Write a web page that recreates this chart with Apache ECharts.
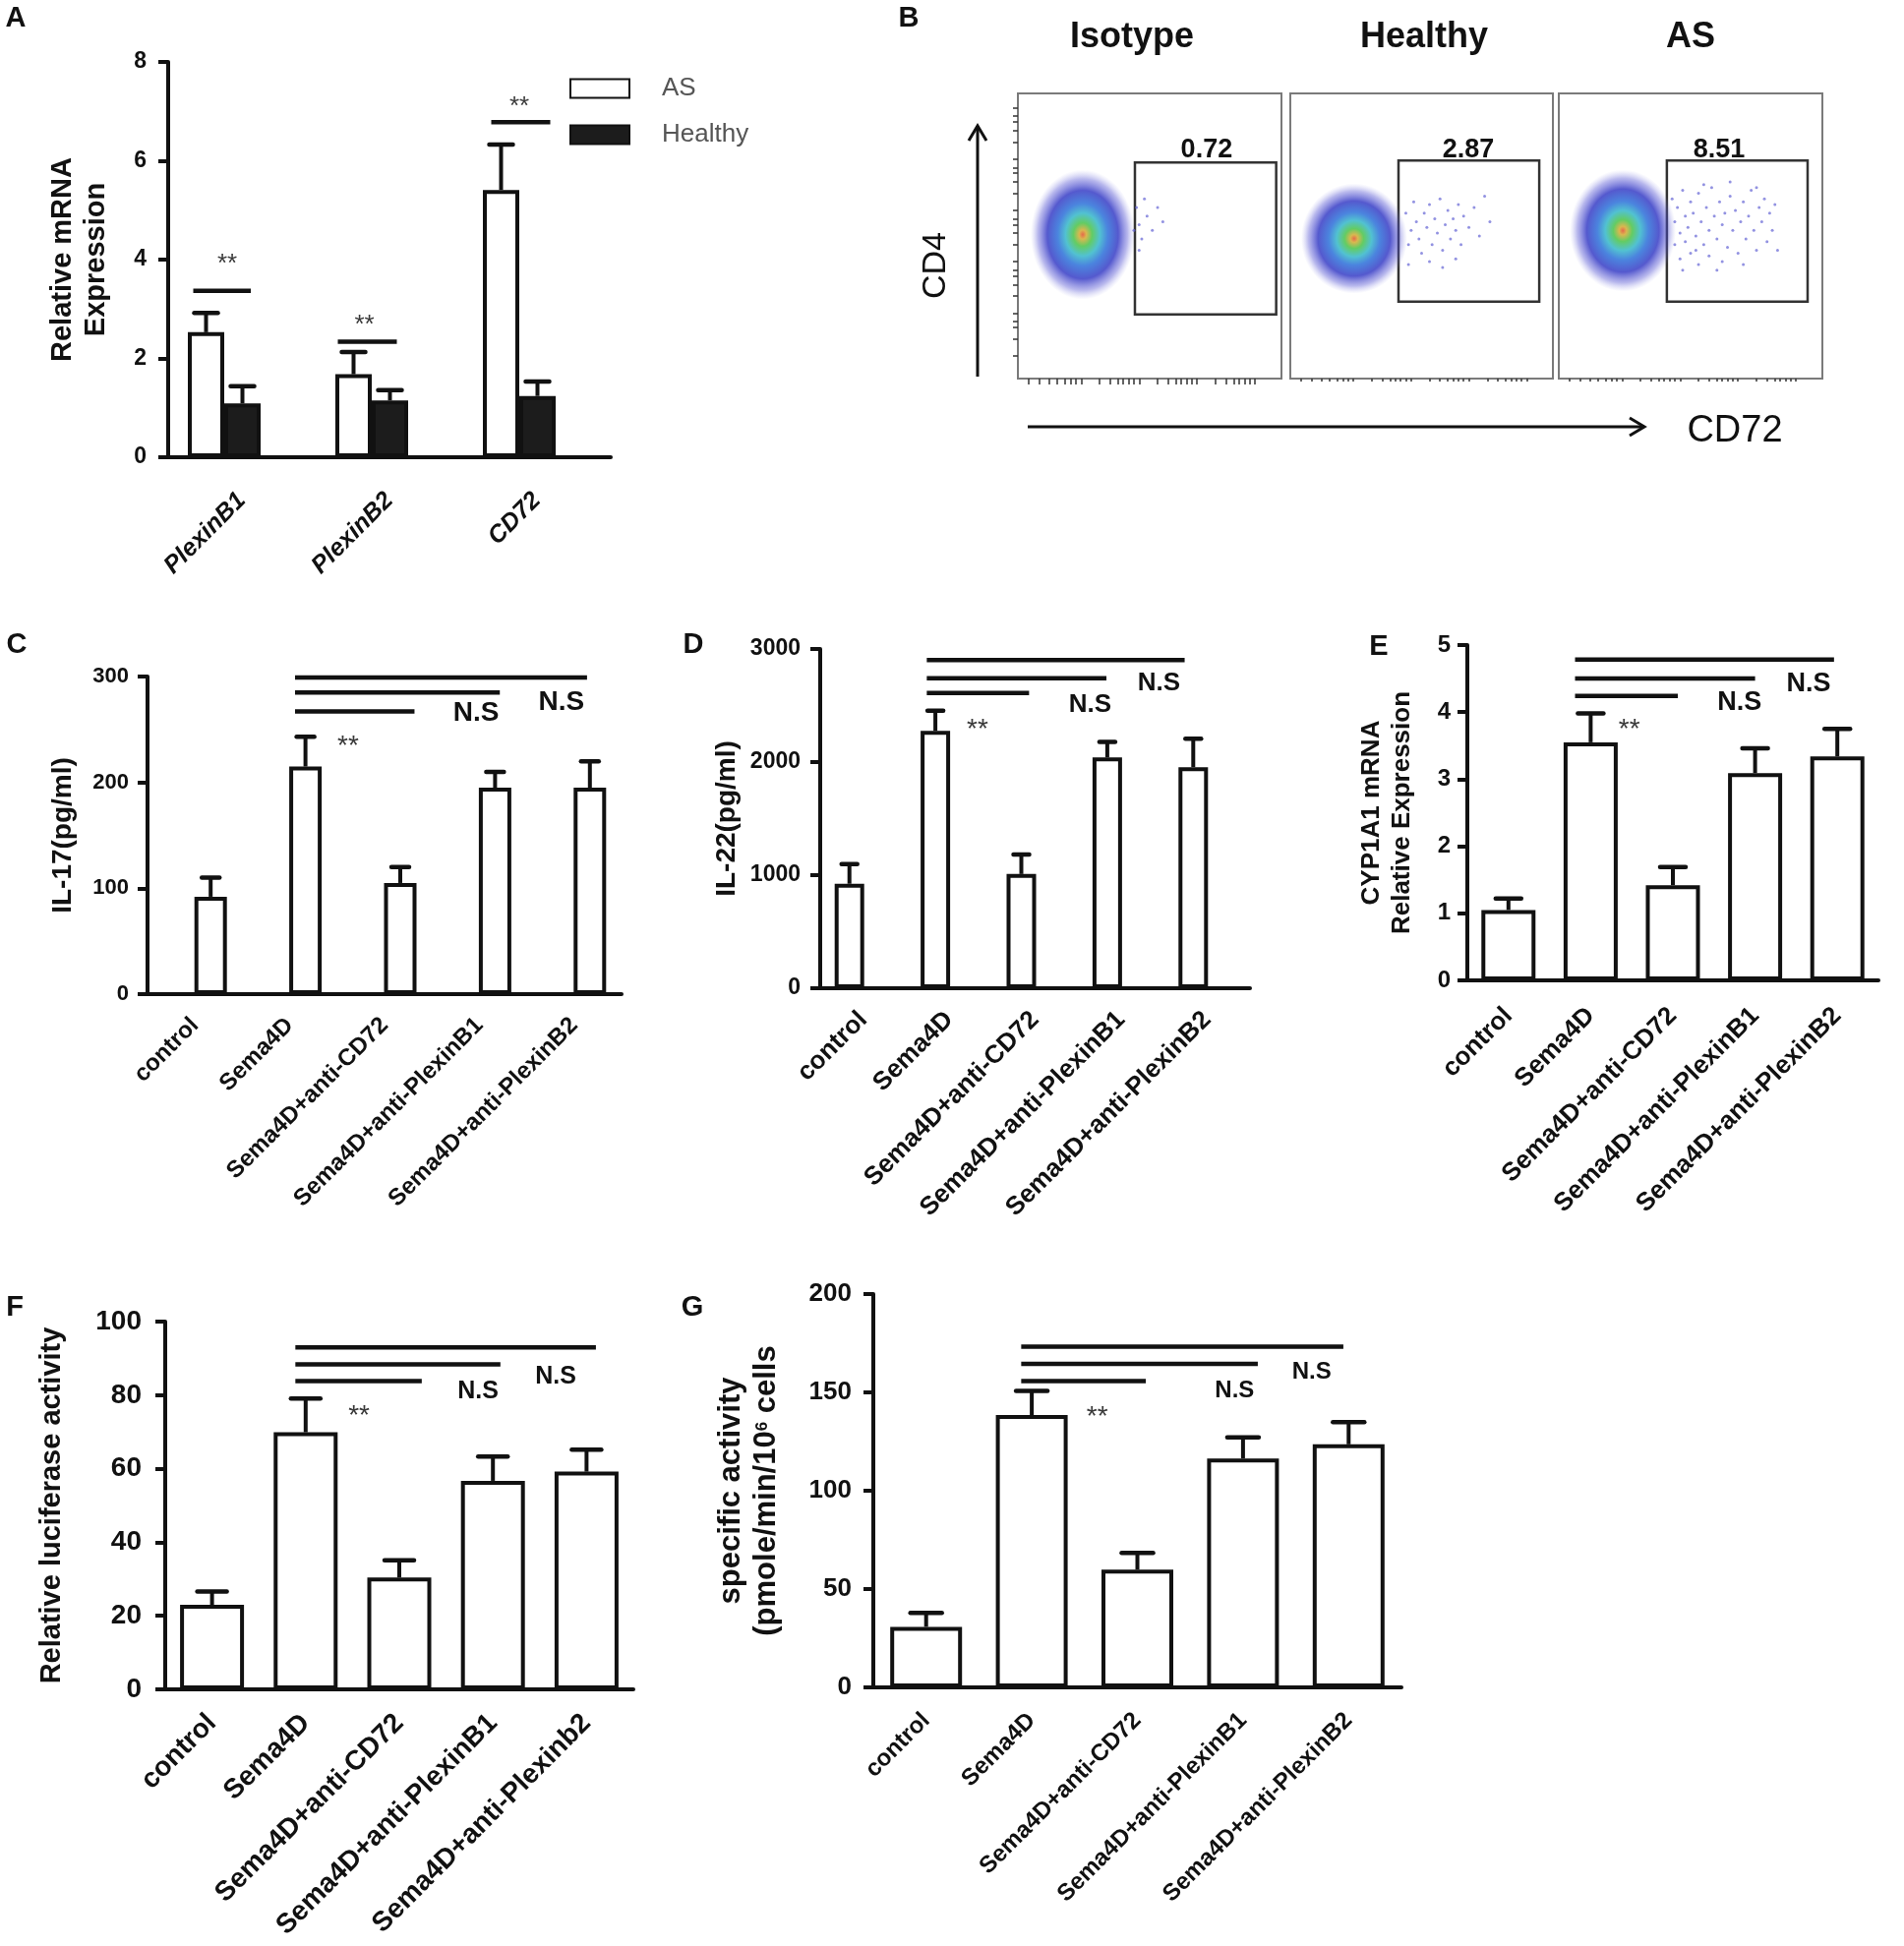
<!DOCTYPE html>
<html>
<head>
<meta charset="utf-8">
<script src="https://cdn.jsdelivr.net/npm/echarts@6/dist/echarts.min.js"></script>
<style>
html, body { margin: 0; padding: 0; background: #fff; }
#chart { width: 1936px; height: 1979px; }
</style>
</head>
<body>
<div id="chart"></div>
<script>
var FONT = "'Liberation Sans', Arial, sans-serif";
var INK = '#111';

// A - relative mRNA expression, AS vs healthy
var geneNames = ['PlexinB1', 'PlexinB2', 'CD72'];
var asMean = [2.53, 1.68, 5.41];
var asUpper = [2.92, 2.13, 6.33];
var healthyMean = [1.09, 1.15, 1.24];
var healthyUpper = [1.44, 1.36, 1.53];
var geneLines = [[-0.21, 0.18, 3.37], [0.77, 1.17, 2.34], [1.81, 2.21, 6.78]];
var geneNoteAt = [[0.02, 4.04], [0.95, 2.79], [2.0, 7.22]];
var geneNotes = ['**', '**', '**'];

// B - flow cytometry, CD4 vs CD72
var flowTitles = ['Isotype', 'Healthy', 'AS'];
var flowPercent = ['0.72', '2.87', '8.51'];
var flowPercentAt = [[71.6, 80], [67.8, 80], [60.8, 80]];
var flowCore = [[24.6, 50.5], [24.3, 49.1], [24.3, 51.9]];
var flowGates = [[44.4, 22.5, 98, 75.8], [41.2, 27, 94.8, 76.5], [41, 27, 94.4, 76.5]];
var flowTickX = [4, 8, 12, 15, 18, 20, 22, 24, 31, 35, 38, 40, 42, 44, 46, 53, 57, 60, 62, 64, 66, 68, 75, 79, 82, 84, 86, 88, 90];
var flowTickY = [8, 14, 18, 20, 23, 29, 33, 36, 38, 41, 47, 51, 54, 56, 59, 65, 69, 72, 74, 77, 83, 87, 90, 92, 95];
var isotypeEvents = [[45, 60], [46, 54], [47, 49], [48, 63], [49, 57], [51, 52], [53, 60], [55, 55], [46, 45], [44, 52]];
var healthyEvents = [[44, 58], [46, 52], [45, 47], [47, 62], [48, 55], [49, 49], [50, 44], [51, 58], [52, 53], [53, 61],
  [54, 47], [55, 56], [56, 51], [57, 63], [58, 45], [59, 54], [60, 59], [61, 49], [62, 56], [63, 52], [64, 61], [65, 47],
  [66, 57], [68, 53], [70, 60], [72, 50], [74, 64], [76, 55], [53, 41], [58, 39], [63, 42], [45, 40]];
var asEvents = [[43, 63], [44, 55], [44, 47], [45, 60], [46, 51], [46, 42], [47, 66], [48, 57], [48, 48], [49, 53],
  [50, 62], [50, 44], [51, 58], [52, 50], [53, 65], [53, 40], [54, 55], [55, 47], [56, 60], [57, 52], [57, 43], [58, 67],
  [59, 57], [60, 49], [61, 62], [62, 54], [62, 41], [63, 58], [64, 46], [65, 64], [66, 52], [67, 59], [68, 44], [69, 55],
  [70, 62], [71, 49], [72, 57], [73, 66], [74, 52], [75, 45], [76, 60], [77, 55], [78, 63], [79, 48], [80, 58], [81, 52],
  [82, 61], [83, 45], [60, 38], [70, 40], [55, 68], [65, 69], [75, 67], [47, 38], [52, 45]];

// C-G - treatment groups
var groups = ['control', 'Sema4D', 'Sema4D+anti-CD72', 'Sema4D+anti-PlexinB1', 'Sema4D+anti-PlexinB2'];
var groupsF = ['control', 'Sema4D', 'Sema4D+anti-CD72', 'Sema4D+anti-PlexinB1', 'Sema4D+anti-Plexinb2'];

var il17Mean = [92, 215, 105, 195, 195];
var il17Upper = [110, 243, 120, 210, 220];
var il17Lines = [[0.89, 2.15, 267], [0.89, 3.05, 285], [0.89, 3.97, 299]];
var il17NoteAt = [[1.45, 240], [2.8, 265], [3.7, 275.5]];

var il22Mean = [924, 2276, 1010, 2041, 1955];
var il22Upper = [1097, 2455, 1183, 2179, 2207];
var il22Lines = [[0.9, 2.09, 2610], [0.9, 2.99, 2741], [0.9, 3.9, 2903]];
var il22NoteAt = [[1.49, 2345], [2.8, 2502], [3.6, 2698]];

var cypMean = [1.05, 3.55, 1.42, 3.09, 3.34];
var cypUpper = [1.22, 3.98, 1.69, 3.46, 3.75];
var cypLines = [[0.81, 2.06, 4.24], [0.81, 3.0, 4.5], [0.81, 3.96, 4.785]];
var cypNoteAt = [[1.47, 3.84], [2.81, 4.14], [3.65, 4.42]];

var lucMean = [23, 69.9, 30.4, 56.7, 59.2];
var lucUpper = [26.6, 79.1, 35.1, 63.3, 65.2];
var lucLines = [[0.89, 2.24, 83.8], [0.89, 3.08, 88.4], [0.89, 4.1, 93]];
var lucNoteAt = [[1.57, 76], [2.84, 81], [3.67, 85]];

var actMean = [30.8, 138.5, 59.9, 116.4, 123.6];
var actUpper = [37.9, 150.8, 68.4, 127.1, 134.9];
var actLines = [[0.9, 2.08, 155.7], [0.9, 3.14, 164.5], [0.9, 3.95, 173.3]];
var actNoteAt = [[1.62, 141], [2.92, 151], [3.65, 160.5]];

var groupNotes = ['**', 'N.S', 'N.S'];

var chart = echarts.init(document.getElementById('chart'));
var opt = {
	backgroundColor: '#fff',
	animation: false,
	grid: [],
	xAxis: [],
	yAxis: [],
	series: [],
	graphic: [],
	legend: {
		data: ['AS', 'Healthy'],
		orient: 'vertical',
		left: 579,
		top: 77,
		padding: 0,
		icon: 'rect',
		itemWidth: 60,
		itemHeight: 19,
		itemGap: 21,
		textStyle: { fontFamily: FONT, fontSize: 26, color: '#555', padding: [0, 0, 0, 28] }
	}
};

function errorBar(offset, cap) {
	return function (params, api) {
		var base = api.coord([api.value(0), api.value(1)]);
		var top = api.coord([api.value(0), api.value(2)]);
		var x = base[0] + offset;
		return {
			type: 'group',
			children: [
				{ type: 'line', shape: { x1: x, y1: base[1], x2: x, y2: top[1] }, style: { stroke: INK, lineWidth: 4 } },
				{ type: 'line', shape: { x1: x - cap, y1: top[1], x2: x + cap, y2: top[1] }, style: { stroke: INK, lineWidth: 4.5, lineCap: 'round' } }
			]
		};
	};
}

function bracket(params, api) {
	var a = api.coord([api.value(0), api.value(2)]);
	var b = api.coord([api.value(1), api.value(2)]);
	return { type: 'line', shape: { x1: a[0], y1: a[1], x2: b[0], y2: b[1] }, style: { stroke: INK, lineWidth: 4.5 } };
}

function noteText(texts, starSize, nsSize) {
	return function (params, api) {
		var p = api.coord([api.value(0), api.value(1)]);
		var t = texts[params.dataIndex];
		var star = t === '**';
		return {
			type: 'text',
			style: {
				text: t, x: p[0], y: p[1] + (star ? starSize * 0.25 : 0),
				align: 'center', verticalAlign: 'middle',
				fontFamily: FONT, fontSize: star ? starSize : nsSize,
				fontWeight: star ? 'normal' : 'bold', fill: star ? '#3a3a3a' : INK
			}
		};
	};
}

function addBarPanel(p) {
	var g = opt.grid.length;
	var xa = opt.xAxis.length;
	var ya = opt.yAxis.length;
	var line = { color: INK, width: 4 };
	opt.grid.push({ left: p.left, top: p.top, width: p.width, height: p.height });
	opt.grid.push({ left: p.left + p.shift, top: p.top, width: p.width, height: p.height });
	opt.xAxis.push({
		gridIndex: g, type: 'category', data: p.cats,
		axisLine: { lineStyle: line },
		axisTick: { alignWithLabel: true, length: 13, lineStyle: line },
		axisLabel: {
			interval: 0, rotate: 45, margin: p.catMargin, color: INK, fontFamily: FONT,
			fontWeight: 'bold', fontSize: p.catSize, fontStyle: p.italic ? 'italic' : 'normal'
		}
	});
	opt.xAxis.push({ gridIndex: g + 1, type: 'category', data: p.cats, show: false });
	opt.xAxis.push({ gridIndex: g + 1, type: 'value', position: 'top', min: -0.5, max: p.cats.length - 0.5, show: false });
	opt.yAxis.push({
		gridIndex: g, type: 'value', min: p.min, max: p.max, interval: p.step,
		name: p.yName, nameLocation: 'middle', nameGap: p.nameGap,
		nameTextStyle: {
			color: INK, fontFamily: FONT, fontWeight: 'bold', fontSize: p.nameSize, lineHeight: p.nameSize * 1.18,
			rich: { sup: { fontFamily: FONT, fontWeight: 'bold', fontSize: 17, color: INK, verticalAlign: 'bottom', padding: [0, 0, 14, 0] } }
		},
		axisLine: { show: true, lineStyle: line },
		axisTick: { show: true, length: 10, lineStyle: line },
		axisLabel: {
			margin: p.tickMargin, color: INK, fontFamily: FONT, fontWeight: 'bold', fontSize: p.tickSize,
			formatter: function (v) { return String(v); }
		},
		splitLine: { show: false }
	});
	opt.yAxis.push({ gridIndex: g + 1, type: 'value', min: p.min, max: p.max, show: false });
	p.bars.forEach(function (b) {
		opt.series.push({
			type: 'bar', name: b.name, xAxisIndex: xa + 1, yAxisIndex: ya + 1, data: b.mean,
			barWidth: p.barWidth, barGap: '0%', z: 2,
			itemStyle: { color: b.fill, borderColor: INK, borderWidth: 4 }
		});
		opt.series.push({
			type: 'custom', xAxisIndex: xa + 2, yAxisIndex: ya + 1, z: 3,
			data: b.mean.map(function (m, i) { return [i, m, b.upper[i]]; }),
			renderItem: errorBar(b.offset, p.cap)
		});
	});
	opt.series.push({ type: 'custom', xAxisIndex: xa + 2, yAxisIndex: ya + 1, z: 3, data: p.lines, renderItem: bracket });
	opt.series.push({
		type: 'custom', xAxisIndex: xa + 2, yAxisIndex: ya + 1, z: 3, data: p.noteAt,
		renderItem: noteText(p.notes, p.starSize, p.nsSize)
	});
}

var cloudFill = {
	type: 'radial', x: 0.5, y: 0.5, r: 0.5,
	colorStops: [
		{ offset: 0, color: '#e0461c' },
		{ offset: 0.07, color: '#cfa624' },
		{ offset: 0.18, color: '#3cbf3c' },
		{ offset: 0.33, color: '#26b2c6' },
		{ offset: 0.48, color: '#1e66d6' },
		{ offset: 0.68, color: '#2a30c2' },
		{ offset: 0.86, color: 'rgba(80,80,210,0.5)' },
		{ offset: 1, color: 'rgba(150,150,230,0)' }
	]
};
var cloudSize = [[106, 132], [108, 112], [108, 124]];
var flowEvents = [isotypeEvents, healthyEvents, asEvents];
var flowBox = [[1035, 268], [1312, 267], [1585, 268]];

function addFlowPanel(i) {
	var g = opt.grid.length;
	var xa = opt.xAxis.length;
	var ya = opt.yAxis.length;
	var gate = flowGates[i];
	var tick = { color: '#333', width: 1.5 };
	opt.grid.push({
		left: flowBox[i][0], top: 95, width: flowBox[i][1], height: 290,
		show: true, borderColor: '#7a7a7a', borderWidth: 2, backgroundColor: 'rgba(0,0,0,0)'
	});
	opt.xAxis.push({
		gridIndex: g, type: 'value', min: 0, max: 100,
		axisLine: { show: false }, axisLabel: { show: false }, splitLine: { show: false },
		axisTick: { show: true, customValues: flowTickX, length: i === 0 ? 6 : 3, lineStyle: tick }
	});
	opt.yAxis.push({
		gridIndex: g, type: 'value', min: 0, max: 100,
		axisLine: { show: false }, axisLabel: { show: false }, splitLine: { show: false },
		axisTick: { show: i === 0, customValues: flowTickY, length: 5, lineStyle: tick }
	});
	opt.series.push({
		type: 'scatter', xAxisIndex: xa, yAxisIndex: ya, silent: true,
		data: [flowCore[i]], symbolSize: cloudSize[i],
		itemStyle: {
			color: cloudFill,
			decal: { symbol: 'circle', symbolSize: 0.6, color: 'rgba(255,255,255,0.45)', dashArrayX: [3, 2], dashArrayY: [3, 2], rotation: 0.7 }
		}
	});
	opt.series.push({
		type: 'scatter', xAxisIndex: xa, yAxisIndex: ya, silent: true,
		data: flowEvents[i], symbolSize: 3, itemStyle: { color: '#6464d4', opacity: 0.7 },
		markArea: {
			silent: true,
			itemStyle: { color: 'rgba(0,0,0,0)', borderColor: '#333', borderWidth: 2.5 },
			data: [[{ coord: [gate[0], gate[1]] }, { coord: [gate[2], gate[3]] }]]
		}
	});
	opt.series.push({
		type: 'custom', xAxisIndex: xa, yAxisIndex: ya, data: [flowPercentAt[i]],
		renderItem: function (params, api) {
			var p = api.coord([api.value(0), api.value(1)]);
			return {
				type: 'text',
				style: { text: flowPercent[i], x: p[0], y: p[1], align: 'center', verticalAlign: 'middle', fontFamily: FONT, fontWeight: 'bold', fontSize: 27, fill: INK }
			};
		}
	});
	opt.graphic.push({
		type: 'text', x: flowBox[i][0] + [116, 136, 134][i], y: 38,
		style: { text: flowTitles[i], align: 'center', verticalAlign: 'middle', fontFamily: FONT, fontWeight: 'bold', fontSize: 36, fill: INK }
	});
}

// A
addBarPanel({
	cats: geneNames, left: 171, top: 63, width: 450, height: 402, shift: -18,
	min: 0, max: 8, step: 2, yName: 'Relative mRNA\nExpression', nameGap: 56, nameSize: 29,
	tickSize: 23, tickMargin: 22, catSize: 25, catMargin: 40, italic: true,
	barWidth: 37, cap: 12, starSize: 26, nsSize: 26,
	bars: [
		{ name: 'AS', mean: asMean, upper: asUpper, fill: '#fff', offset: -18.5 },
		{ name: 'Healthy', mean: healthyMean, upper: healthyUpper, fill: '#1c1c1c', offset: 18.5 }
	],
	lines: geneLines, noteAt: geneNoteAt, notes: geneNotes
});

// B
for (var k = 0; k < 3; k++) addFlowPanel(k);

// C
addBarPanel({
	cats: groups, left: 150, top: 688, width: 482, height: 323, shift: 16,
	min: 0, max: 300, step: 100, yName: 'IL-17(pg/ml)', nameGap: 69, nameSize: 28,
	tickSize: 22, tickMargin: 19, catSize: 24, catMargin: 28,
	barWidth: 33, cap: 9, starSize: 28, nsSize: 28,
	bars: [{ name: 'IL-17', mean: il17Mean, upper: il17Upper, fill: '#fff', offset: 0 }],
	lines: il17Lines, noteAt: il17NoteAt, notes: groupNotes
});

// D
addBarPanel({
	cats: groups, left: 834, top: 660, width: 437, height: 345, shift: -14,
	min: 0, max: 3000, step: 1000, yName: 'IL-22(pg/ml)', nameGap: 78, nameSize: 28,
	tickSize: 23, tickMargin: 20, catSize: 26, catMargin: 28,
	barWidth: 30, cap: 8, starSize: 28, nsSize: 26,
	bars: [{ name: 'IL-22', mean: il22Mean, upper: il22Upper, fill: '#fff', offset: 0 }],
	lines: il22Lines, noteAt: il22NoteAt, notes: groupNotes
});

// E
addBarPanel({
	cats: groups, left: 1492, top: 656, width: 418, height: 341, shift: 0,
	min: 0, max: 5, step: 1, yName: 'CYP1A1 mRNA\nRelative Expression', nameGap: 51, nameSize: 26,
	tickSize: 24, tickMargin: 17, catSize: 26, catMargin: 32,
	barWidth: 55, cap: 13, starSize: 28, nsSize: 27,
	bars: [{ name: 'CYP1A1', mean: cypMean, upper: cypUpper, fill: '#fff', offset: 0 }],
	lines: cypLines, noteAt: cypNoteAt, notes: groupNotes
});

// F
addBarPanel({
	cats: groupsF, left: 168, top: 1344, width: 476, height: 374, shift: 0,
	min: 0, max: 100, step: 20, yName: 'Relative luciferase activity', nameGap: 98, nameSize: 29,
	tickSize: 28, tickMargin: 24, catSize: 28, catMargin: 30,
	barWidth: 65, cap: 15, starSize: 28, nsSize: 25,
	bars: [{ name: 'luciferase', mean: lucMean, upper: lucUpper, fill: '#fff', offset: 0 }],
	lines: lucLines, noteAt: lucNoteAt, notes: groupNotes
});

// G
addBarPanel({
	cats: groups, left: 888, top: 1316, width: 537, height: 400, shift: 0,
	min: 0, max: 200, step: 50, yName: 'specific activity\n(pmole/min/10{sup|6} cells', nameGap: 90, nameSize: 31,
	tickSize: 26, tickMargin: 22, catSize: 24, catMargin: 30,
	barWidth: 73, cap: 16, starSize: 28, nsSize: 24,
	bars: [{ name: 'activity', mean: actMean, upper: actUpper, fill: '#fff', offset: 0 }],
	lines: actLines, noteAt: actNoteAt, notes: groupNotes
});

// panel letters
[['A', 16, 19], ['B', 924, 19], ['C', 17, 656], ['D', 705, 656], ['E', 1402, 658], ['F', 15, 1330], ['G', 704, 1330]].forEach(function (l) {
	opt.graphic.push({
		type: 'text', x: l[1], y: l[2],
		style: { text: l[0], align: 'center', verticalAlign: 'middle', fontFamily: FONT, fontWeight: 'bold', fontSize: 29, fill: INK }
	});
});

// B axes arrows
var arrow = { stroke: INK, lineWidth: 3, fill: null };
opt.graphic.push(
	{ type: 'line', shape: { x1: 994, y1: 383, x2: 994, y2: 128 }, style: arrow },
	{ type: 'polyline', shape: { points: [[985, 143], [994, 128], [1003, 143]] }, style: arrow },
	{ type: 'line', shape: { x1: 1045, y1: 434, x2: 1672, y2: 434 }, style: arrow },
	{ type: 'polyline', shape: { points: [[1657, 425], [1672, 434], [1657, 443]] }, style: arrow },
	{ type: 'text', x: 952, y: 270, rotation: Math.PI / 2, style: { text: 'CD4', align: 'center', verticalAlign: 'middle', fontFamily: FONT, fontSize: 34, fill: INK } },
	{ type: 'text', x: 1764, y: 439, style: { text: 'CD72', align: 'center', verticalAlign: 'middle', fontFamily: FONT, fontSize: 38, fill: INK } }
);

chart.setOption(opt);
</script>
</body>
</html>
